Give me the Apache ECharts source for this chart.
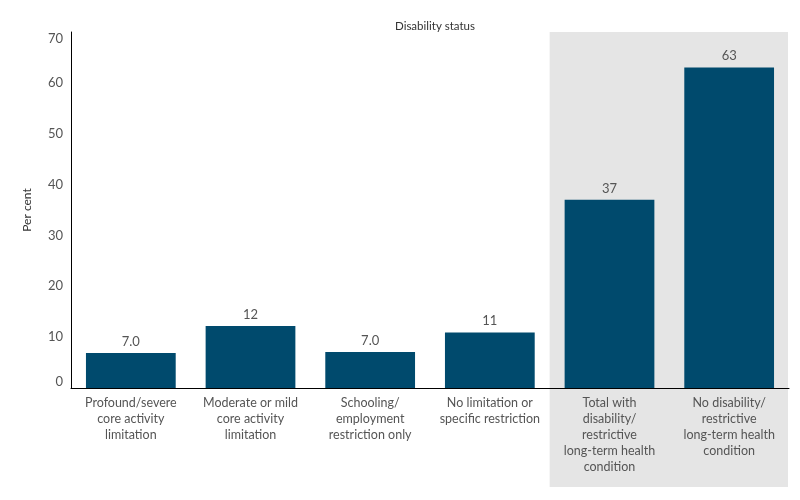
<!DOCTYPE html>
<html>
<head>
<meta charset="utf-8">
<script src="https://cdn.jsdelivr.net/npm/echarts@6/dist/echarts.min.js"></script>
<style>html,body{margin:0;padding:0;background:#fff}#c{width:800px;height:500px}</style>
</head>
<body>
<div id="c"></div>
<script>
const categories = [
  "Profound/severe\ncore activity\nlimitation",
  "Moderate or mild\ncore activity\nlimitation",
  "Schooling/\nemployment\nrestriction only",
  "No limitation or\nspecific restriction",
  "Total with\ndisability/\nrestrictive\nlong-term health\ncondition",
  "No disability/\nrestrictive\nlong-term health\ncondition"
];
const values = [6.9, 12.2, 7.1, 10.9, 37.0, 63.0];
const valueLabels = ["7.0", "12", "7.0", "11", "37", "63"];
const yTicks = [0, 10, 20, 30, 40, 50, 60, 70];
const shadedCategories = [4, 5];

const FONT = 'Lato';
const chart = echarts.init(document.getElementById('c'));
const option = {
  animation: false,
  textStyle: { fontFamily: FONT },
  title: {
    text: 'Disability status', left: 430, top: 15, textAlign: 'center',
    textStyle: { fontSize: 11.5, fontWeight: 'normal', color: '#333', fontFamily: FONT }
  },
  grid: { left: 71, right: 11, top: 32, bottom: 112 },
  xAxis: {
    type: 'category', data: categories,
    axisLine: { show: true, onZero: false, lineStyle: { color: '#000', width: 1 } },
    axisTick: { show: false },
    axisLabel: { interval: 0, color: '#555', fontSize: 12.5, lineHeight: 16, margin: 7, fontFamily: FONT }
  },
  yAxis: {
    type: 'value', min: yTicks[0], max: yTicks[yTicks.length - 1], interval: 10,
    name: 'Per cent', nameLocation: 'middle', nameGap: 38,
    nameTextStyle: { color: '#333', fontSize: 12, fontFamily: FONT },
    axisLine: { show: true, lineStyle: { color: '#000', width: 1 } },
    axisTick: { show: false },
    splitLine: { show: false },
    axisLabel: { color: '#555', fontSize: 13, margin: 8, fontFamily: FONT,
      verticalAlignMinLabel: 'bottom', verticalAlignMaxLabel: 'top' }
  },
  series: [{
    type: 'bar', data: values, barWidth: '75%',
    itemStyle: { color: '#004A6D' },
    label: {
      show: true, position: 'top', distance: 5, color: '#555', fontSize: 13, fontFamily: FONT,
      formatter: p => valueLabels[p.dataIndex]
    },
    z: 5
  }]
};
chart.setOption(option);

function drawBand() {
  const x0 = chart.convertToPixel({ xAxisIndex: 0 }, shadedCategories[0]);
  const x1 = chart.convertToPixel({ xAxisIndex: 0 }, shadedCategories[1]);
  const step = x1 - x0;
  const left = x0 - step / 2;
  const right = x1 + step / 2;
  const top = chart.convertToPixel({ yAxisIndex: 0 }, yTicks[yTicks.length - 1]);
  chart.setOption({
    graphic: [{
      type: 'rect', z: -1, silent: true,
      shape: { x: left, y: top, width: right - left - 1, height: 487 - top },
      style: { fill: '#E5E5E5' }
    }]
  });
}
drawBand();
</script>
</body>
</html>
